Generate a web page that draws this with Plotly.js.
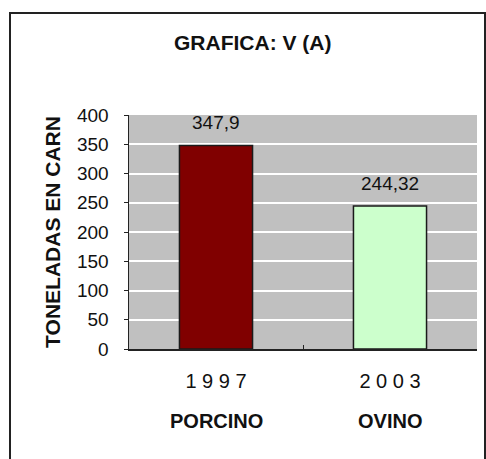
<!DOCTYPE html>
<html>
<head>
<meta charset="utf-8">
<script src="https://cdn.plot.ly/plotly-3.0.1.min.js"></script>
<style>
  body { margin: 0; background: #fff; }
  #chart1 { width: 486px; height: 459px; }
</style>
</head>
<body>
<div id="chart1"></div>
<script>
// data
var years = ["1997", "2003"]
var species = ["PORCINO", "OVINO"]
var tons = [347.9, 244.32]
var barColors = ["#800000", "#ccffcc"]

window.onload = function(){

    // "1 9 9 7" style spaced tick labels
    var tickLabels = years.map(y => y.split("").join(" "))
    // decimal comma as in the original
    var valueLabels = tons.map(v => String(v).replace(".", ","))

    var notes = []
    for (let i=0; i<species.length; i++){
        notes.push({
            x: i, y: tons[i], xref: "x", yref: "y",
            text: valueLabels[i], showarrow: false,
            yanchor: "bottom", yshift: 10,
            font: {family: "Liberation Sans, Arial", size: 19, color: "#111"}
        })
        notes.push({
            x: i, y: -0.308, xref: "x", yref: "paper",
            text: "<b>" + species[i] + "</b>", showarrow: false,
            yanchor: "middle",
            font: {family: "Liberation Sans, Arial", size: 20, color: "#111"}
        })
    }

    Plotly.newPlot("chart1", [{
        x: species,
        y: tons,
        type: "bar",
        width: 0.42,
        marker: {color: barColors, line: {color: "#1a1a1a", width: 1.5}},
        hoverinfo: "none"
    }], {
        width: 486,
        height: 459,
        margin: {l: 129, r: 9, t: 115, b: 110},
        paper_bgcolor: "#fff",
        plot_bgcolor: "#c0c0c0",
        showlegend: false,
        title: {
            text: "<b>GRAFICA: V (A)</b>",
            xref: "container", x: 0.52, xanchor: "center",
            yref: "container", y: 1 - 43/459, yanchor: "middle",
            font: {family: "Liberation Sans, Arial", size: 21, color: "#111"}
        },
        xaxis: {
            type: "category",
            range: [-0.5, 1.5],
            tickvals: species,
            ticktext: tickLabels,
            tickson: "boundaries",
            ticks: "inside",
            ticklen: 4,
            tickcolor: "#222",
            tickangle: 0,
            showline: true,
            linecolor: "#222",
            linewidth: 1.5,
            showgrid: false,
            ticklabelstandoff: 13,
            tickfont: {family: "Liberation Sans, Arial", size: 20, color: "#111"},
            fixedrange: true
        },
        yaxis: {
            range: [0, 400],
            dtick: 50,
            ticks: "outside",
            ticklen: 4,
            tickcolor: "#222",
            showline: true,
            linecolor: "#222",
            linewidth: 1.5,
            gridcolor: "#fff",
            gridwidth: 2,
            zeroline: false,
            ticklabelstandoff: 11,
            tickfont: {family: "Liberation Sans, Arial", size: 19, color: "#111"},
            title: {
                text: "<b>TONELADAS EN CARN</b>",
                standoff: 10,
                font: {family: "Liberation Sans, Arial", size: 21, color: "#111"}
            },
            automargin: false,
            fixedrange: true
        },
        annotations: notes,
        shapes: [{
            // outer frame of the picture
            type: "rect", xref: "paper", yref: "paper",
            x0: (10-129)/348, x1: (485-129)/348,
            y0: (349-475)/234, y1: (349-13)/234,
            line: {color: "#222", width: 2},
            fillcolor: "rgba(0,0,0,0)",
            layer: "below"
        }]
    }, {displayModeBar: false, staticPlot: true})
}
</script>
</body>
</html>
